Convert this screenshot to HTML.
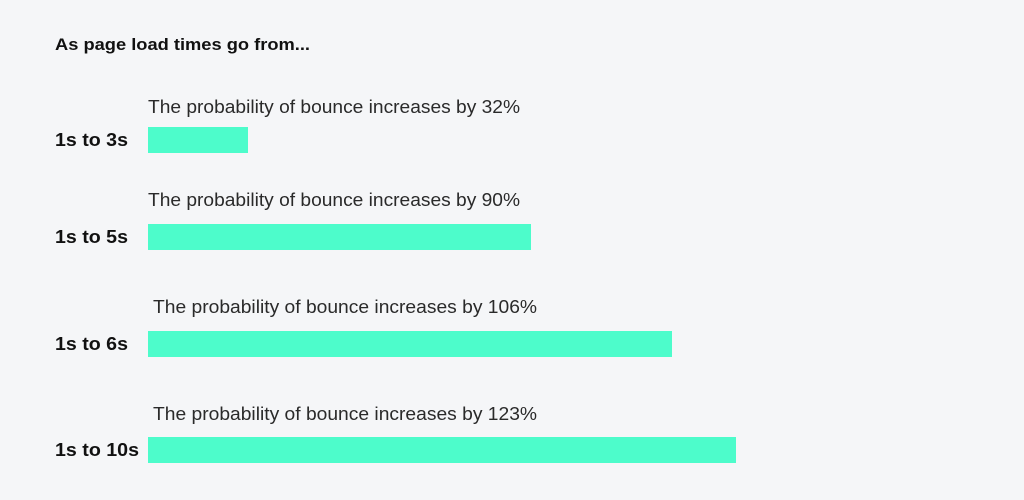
<!DOCTYPE html>
<html><head><meta charset="utf-8"><style>
html,body{margin:0;padding:0;background:#f5f6f8;}
svg{display:block}
.t{font-family:"Liberation Sans",sans-serif;}
</style></head><body>
<svg width="1024" height="500" viewBox="0 0 1024 500" xmlns="http://www.w3.org/2000/svg">
<rect width="1024" height="500" fill="#f5f6f8"/>
<g class="t" fill="#111">
<text x="55" y="50" font-size="17" font-weight="bold" textLength="255" lengthAdjust="spacingAndGlyphs">As page load times go from...</text>
<g font-size="18" font-weight="bold">
<text x="55" y="146" textLength="73" lengthAdjust="spacingAndGlyphs">1s to 3s</text>
<text x="55" y="243" textLength="73" lengthAdjust="spacingAndGlyphs">1s to 5s</text>
<text x="55" y="350" textLength="73" lengthAdjust="spacingAndGlyphs">1s to 6s</text>
<text x="55" y="456" textLength="84" lengthAdjust="spacingAndGlyphs">1s to 10s</text>
</g>
<g font-size="18" fill="#2a2a2a">
<text x="148" y="113" textLength="372" lengthAdjust="spacingAndGlyphs">The probability of bounce increases by 32%</text>
<text x="148" y="206" textLength="372" lengthAdjust="spacingAndGlyphs">The probability of bounce increases by 90%</text>
<text x="153" y="313" textLength="384" lengthAdjust="spacingAndGlyphs">The probability of bounce increases by 106%</text>
<text x="153" y="420" textLength="384" lengthAdjust="spacingAndGlyphs">The probability of bounce increases by 123%</text>
</g>
</g>
<g fill="#4dfccb">
<rect x="148" y="127" width="100" height="26"/>
<rect x="148" y="224" width="383" height="26"/>
<rect x="148" y="331" width="524" height="26"/>
<rect x="148" y="437" width="588" height="26"/>
</g>
</svg>
</body></html>
